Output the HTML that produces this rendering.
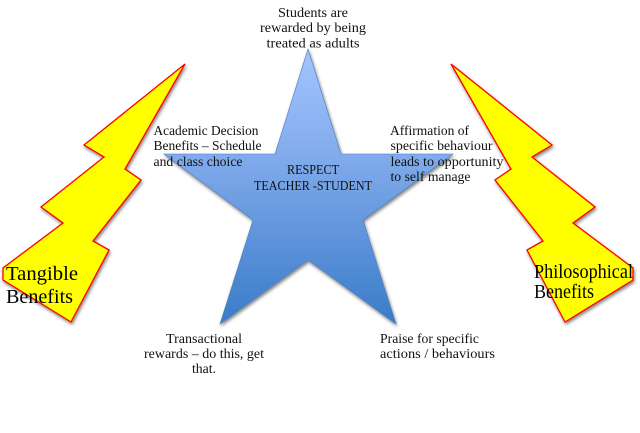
<!DOCTYPE html>
<html>
<head>
<meta charset="utf-8">
<style>
html,body{margin:0;padding:0;background:#fff;width:640px;height:433px;overflow:hidden}
svg{display:block}
text{font-family:"Liberation Serif",serif;fill:#111;font-size:13.5px}
.big{font-size:20px;fill:#000}
</style>
</head>
<body>
<svg width="640" height="433" viewBox="0 0 640 433" xmlns="http://www.w3.org/2000/svg">
<defs>
<linearGradient id="g" x1="0" y1="0" x2="0" y2="1">
<stop offset="0" stop-color="#a3c4ff"/>
<stop offset="0.35" stop-color="#85aeee"/>
<stop offset="1" stop-color="#3a7bc8"/>
</linearGradient>
<filter id="s" x="-15%" y="-15%" width="130%" height="130%">
<feDropShadow dx="1" dy="2" stdDeviation="1.5" flood-color="#000" flood-opacity="0.5"/>
</filter>
</defs>
<polygon filter="url(#s)" fill="url(#g)" stroke="#4a7ebb" stroke-width="0.6" points="308,49 341,154 453,154 363,220 396,324 308,260 220,324 253,220 164,154 275,154"/>
<polygon filter="url(#s)" fill="#ffff00" stroke="#ff0000" stroke-width="1.3" points="185,64 125,169 141,180 93,241 109,250 71,322 3,280 3,268 63,223 41,207 104,157 84,145"/>
<polygon filter="url(#s)" fill="#ffff00" stroke="#ff0000" stroke-width="1.3" points="451,64 552,145 532,157 595,207 573,223 633,268 633,280 565,322 527,250 543,241 495,180 511,169"/>

<text x="278" y="17" textLength="70" lengthAdjust="spacingAndGlyphs">Students are</text>
<text x="260" y="32" textLength="106" lengthAdjust="spacingAndGlyphs">rewarded by being</text>
<text x="266.5" y="47.5" textLength="93" lengthAdjust="spacingAndGlyphs">treated as adults</text>

<text x="153.5" y="135" textLength="105" lengthAdjust="spacingAndGlyphs">Academic Decision</text>
<text x="153.5" y="150" textLength="108" lengthAdjust="spacingAndGlyphs">Benefits – Schedule</text>
<text x="153.5" y="166" textLength="89" lengthAdjust="spacingAndGlyphs">and class choice</text>

<text x="287" y="174" textLength="52" lengthAdjust="spacingAndGlyphs">RESPECT</text>
<text x="254" y="190" textLength="118" lengthAdjust="spacingAndGlyphs">TEACHER -STUDENT</text>

<text x="390" y="135" textLength="79" lengthAdjust="spacingAndGlyphs">Affirmation of</text>
<text x="390.5" y="150" textLength="102" lengthAdjust="spacingAndGlyphs">specific behaviour</text>
<text x="390.5" y="166" textLength="113" lengthAdjust="spacingAndGlyphs">leads to opportunity</text>
<text x="390.5" y="181" textLength="80" lengthAdjust="spacingAndGlyphs">to self manage</text>

<text x="166" y="343" textLength="76" lengthAdjust="spacingAndGlyphs">Transactional</text>
<text x="144" y="358" textLength="120" lengthAdjust="spacingAndGlyphs">rewards – do this, get</text>
<text x="192" y="373" textLength="24" lengthAdjust="spacingAndGlyphs">that.</text>

<text x="380" y="343" textLength="99" lengthAdjust="spacingAndGlyphs">Praise for specific</text>
<text x="380" y="358" textLength="115" lengthAdjust="spacingAndGlyphs">actions / behaviours</text>

<text class="big" x="6" y="280" textLength="72" lengthAdjust="spacingAndGlyphs">Tangible</text>
<text class="big" x="6" y="303" textLength="67" lengthAdjust="spacingAndGlyphs">Benefits</text>
<text class="big" x="534" y="278" textLength="99" lengthAdjust="spacingAndGlyphs">Philosophical</text>
<text class="big" x="534" y="298" textLength="60" lengthAdjust="spacingAndGlyphs">Benefits</text>
</svg>
</body>
</html>
